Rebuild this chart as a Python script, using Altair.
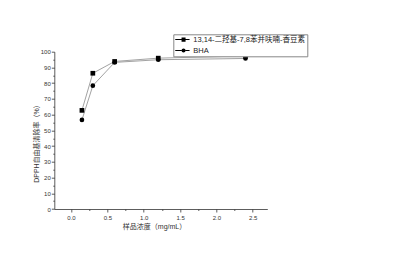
import altair as alt
import pandas as pd

conc = [0.15, 0.3, 0.6, 1.2, 2.4]
compound = [62.7, 86.3, 93.8, 95.9, 97.3]
bha = [56.6, 78.4, 93.2, 94.9, 95.7]
series_names = ["13,14-二羟基-7,8苯并呋喃-香豆素", "BHA"]
x_ticks = [0.0, 0.25, 0.5, 0.75, 1.0, 1.25, 1.5, 1.75, 2.0, 2.25, 2.5]
y_ticks = list(range(0, 101, 5))

rows = []
for c, v in zip(conc, compound):
    rows.append({"conc": c, "value": v, "series": series_names[0]})
for c, v in zip(conc, bha):
    rows.append({"conc": c, "value": v, "series": series_names[1]})
df = pd.DataFrame(rows)

FONT = "Liberation Sans, Noto Sans CJK SC"

x_enc = alt.X(
    "conc:Q",
    scale=alt.Scale(domain=[-0.23, 2.7], nice=False, zero=False),
    axis=alt.Axis(
        values=x_ticks,
        labelExpr="abs(datum.value % 0.5) < 0.001 ? format(datum.value, '.1f') : ''",
        tickSize={"condition": {"test": "abs(datum.value % 0.5) < 0.001", "value": 3}, "value": 1.5},
        labelOverlap=False,
        grid=False,
        labelFontSize=6,
        labelFont=FONT,
        labelColor="#333333",
        labelPadding=2,
        domainColor="#333333",
        tickColor="#333333",
        domainWidth=0.8,
        tickWidth=0.8,
        title="样品浓度（mg/mL）",
        titleFont=FONT,
        titleFontSize=7,
        titleFontWeight="normal",
        titleColor="#333333",
        titleX=99.7,
        titleY=17.7,
        titleAlign="center",
        titleBaseline="middle",
    ),
)
y_enc = alt.Y(
    "value:Q",
    scale=alt.Scale(domain=[0, 100], nice=False),
    axis=alt.Axis(
        values=y_ticks,
        labelExpr="datum.value % 10 == 0 ? format(datum.value, 'd') : ''",
        tickSize={"condition": {"test": "datum.value % 10 == 0", "value": 3}, "value": 1.5},
        labelOverlap=False,
        grid=False,
        labelFontSize=6,
        labelFont=FONT,
        labelColor="#333333",
        labelPadding=1,
        domainColor="#333333",
        tickColor="#333333",
        domainWidth=0.8,
        tickWidth=0.8,
        title="DPPH自由基清除率（%）",
        titleFont=FONT,
        titleFontSize=7,
        titleFontWeight="normal",
        titleColor="#333333",
        titleX=-17.6,
        titleY=89.8,
        titleAngle=270,
        titleAlign="center",
        titleBaseline="middle",
    ),
)

lines = alt.Chart(df).mark_line(color="#8a8a8a", strokeWidth=0.8).encode(
    x=x_enc, y=y_enc, detail="series:N"
)

points = alt.Chart(df).mark_point(filled=True, color="black", size=22, opacity=1).encode(
    x=x_enc,
    y=y_enc,
    shape=alt.Shape(
        "series:N",
        scale=alt.Scale(domain=series_names, range=["square", "circle"]),
        legend=None,
    ),
)

sq_path = "M-1.1,-0.15H1V0.15H-1.1Z M2.34,-0.15H3.67V0.15H2.34Z M1,-0.7H2.34V0.7H1Z"
ci_path = ("M-1.1,-0.15H1V0.15H-1.1Z M2.34,-0.15H3.67V0.15H2.34Z "
           "M1,0 A0.67,0.67 0 1,1 2.34,0 A0.67,0.67 0 1,1 1,0 Z")

legend_layer = alt.Chart(df).mark_point(filled=True, color="black", opacity=0).encode(
    x=x_enc,
    y=y_enc,
    shape=alt.Shape(
        "series:N",
        scale=alt.Scale(domain=series_names, range=[sq_path, ci_path]),
        legend=alt.Legend(
            title=None,
            orient="none",
            legendX=119,
            legendY=-17.4,
            labelFont=FONT,
            labelFontSize=7.5,
            labelColor="#222222",
            labelLimit=400,
            symbolSize=36,
            symbolOpacity=1,
            symbolFillColor="black",
            symbolStrokeWidth=0,
            labelOffset=11,
            padding=1.5,
            rowPadding=2,
            strokeColor="#888888",
            fillColor="white",
        ),
    ),
)

chart = (
    alt.layer(lines, points, legend_layer)
    .resolve_scale(shape="independent")
    .properties(
        width=213,
        height=157.3,
        autosize=alt.AutoSizeParams(type="none"),
        padding={"left": 54.3, "top": 51.7, "right": 135.7, "bottom": 51},
        background="white",
    )
    .configure_view(strokeWidth=0)
)

chart.save("out.html", embed_options={"renderer": "svg", "actions": False})
